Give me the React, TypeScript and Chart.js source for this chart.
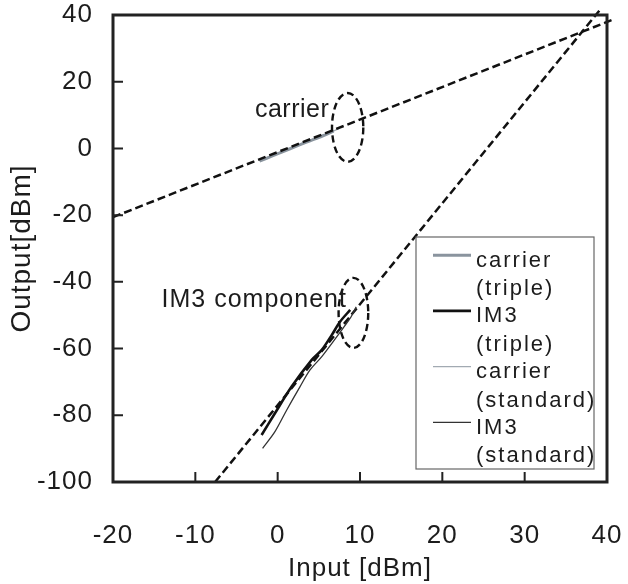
import React, { useEffect, useRef } from "react";
import { Chart, registerables } from "chart.js";

Chart.register(...registerables);

// ---- data ----
const xTickValues = [-20, -10, 0, 10, 20, 30, 40];
const yTickValues = [40, 20, 0, -20, -40, -60, -80, -100];

const carrierTripleIn = [-2.2, -0.5, 1.5, 3.5, 5.5, 6.8];
const carrierTripleOut = [-3.8, -2.1, -0.1, 1.9, 3.8, 5.2];

const im3TripleIn = [-1.95, -0.33, 1.7, 4.14, 5.36, 6.58, 7.59, 8.81];
const im3TripleOut = [-85.9, -79.4, -71.4, -63.4, -60.4, -55.9, -51.9, -48.4];

const carrierStdIn = [-2.0, 0, 2, 4, 6, 7.5];
const carrierStdOut = [-3.4, -1.4, 0.5, 2.5, 4.4, 6.0];

const im3StdIn = [-1.83, -0.33, 1.1, 2.72, 3.93, 5.36, 7.19, 8.81, 9.54];
const im3StdOut = [-89.9, -84.9, -78.4, -71.4, -66.4, -62.4, -56.4, -50.9, -47.5];

const carrierFitIn = [-20, 40.6];
const carrierFitOut = [-20.6, 38.5];
const im3FitIn = [-7.6, 39.3];
const im3FitOut = [-100, 42];

const legendLines = [
  ["carrier", "(triple)"],
  ["IM3", "(triple)"],
  ["carrier", "(standard)"],
  ["IM3", "(standard)"],
];

const carrierLabel = "carrier";
const im3Label = "IM3 component";
const xTitle = "Input [dBm]";
const yTitle = "Output[dBm]";

const FONT = "'Liberation Sans', Arial, sans-serif";
const TEXT = "#1c1c1c";

const pts = (xs: number[], ys: number[]) => xs.map((x, i) => ({ x, y: ys[i] }));

const decorPlugin = {
  id: "decor",
  beforeDraw(chart: any) {
    chart.ctx.letterSpacing = "1px";
  },
  afterDraw(chart: any) {
    const { ctx, chartArea: a, scales } = chart;
    const xs = scales.x;
    const ys = scales.y;
    ctx.save();
    ctx.letterSpacing = "1px";

    // frame
    ctx.strokeStyle = "#222";
    ctx.lineWidth = 3;
    ctx.setLineDash([]);
    ctx.strokeRect(a.left, a.top, a.right - a.left, a.bottom - a.top);

    // inner ticks
    ctx.lineWidth = 2;
    ctx.beginPath();
    xTickValues.slice(1, -1).forEach((v) => {
      const px = xs.getPixelForValue(v);
      ctx.moveTo(px, a.bottom);
      ctx.lineTo(px, a.bottom - 10);
    });
    yTickValues.slice(1, -1).forEach((v) => {
      const py = ys.getPixelForValue(v);
      ctx.moveTo(a.left, py);
      ctx.lineTo(a.left + 10, py);
    });
    ctx.stroke();

    // ellipses
    const ell = (cx: number, cy: number, rx: number, ry: number) => {
      const px = xs.getPixelForValue(cx);
      const py = ys.getPixelForValue(cy);
      const prx = Math.abs(xs.getPixelForValue(cx + rx) - px);
      const pry = Math.abs(ys.getPixelForValue(cy + ry) - py);
      ctx.beginPath();
      ctx.ellipse(px, py, prx, pry, 0, 0, Math.PI * 2);
      ctx.stroke();
    };
    ctx.strokeStyle = "#111";
    ctx.lineWidth = 2.4;
    ctx.setLineDash([7, 4]);
    ell(8.5, 6.3, 1.9, 10.3);
    ell(9.2, -49.3, 1.8, 10.5);
    ctx.setLineDash([]);

    // annotations
    ctx.fillStyle = TEXT;
    ctx.font = `25px ${FONT}`;
    ctx.textAlign = "left";
    ctx.textBaseline = "alphabetic";
    ctx.letterSpacing = "0.5px";
    ctx.fillText(carrierLabel, xs.getPixelForValue(-2.76), ys.getPixelForValue(9.4));
    ctx.letterSpacing = "1px";
    ctx.fillText(im3Label, xs.getPixelForValue(-14.1), ys.getPixelForValue(-47.5));

    // legend
    const w = 178;
    const h = 232;
    const left = a.right - 13 - w;
    const top = a.bottom - 13 - h;
    ctx.fillStyle = "#fff";
    ctx.fillRect(left, top, w, h);
    ctx.strokeStyle = "#666";
    ctx.lineWidth = 1.2;
    ctx.strokeRect(left, top, w, h);
    ctx.font = `22px ${FONT}`;
    ctx.letterSpacing = "2px";
    const ds = chart.data.datasets;
    legendLines.forEach((lines, i) => {
      const d = ds[i];
      const base = top + 29.7 + i * 55.7;
      ctx.strokeStyle = d.borderColor;
      ctx.lineWidth = d.borderWidth;
      ctx.beginPath();
      ctx.moveTo(left + 17, base - 11.5);
      ctx.lineTo(left + 55, base - 11.5);
      ctx.stroke();
      ctx.fillStyle = TEXT;
      ctx.fillText(lines[0], left + 60, base);
      ctx.fillText(lines[1], left + 60, base + 28.5);
    });
    ctx.restore();
  },
};

const zeroPad = (s: any) => {
  s.paddingTop = 0;
  s.paddingBottom = 0;
  s.paddingLeft = 0;
  s.paddingRight = 0;
};

export default function App() {
  const ref = useRef<HTMLCanvasElement>(null);
  useEffect(() => {
    document.body.style.margin = "0";
    const canvas = ref.current!;
    const lineDs = (label: string, data: any, color: string, width: number, order: number) => ({
      label,
      data,
      borderColor: color,
      backgroundColor: color,
      borderWidth: width,
      pointRadius: 0,
      fill: false,
      tension: 0.3,
      order,
    });
    const chart = new Chart(canvas, {
      type: "line",
      data: {
        datasets: [
          lineDs("carrier (triple)", pts(carrierTripleIn, carrierTripleOut), "#8a949e", 3, 3),
          lineDs("IM3 (triple)", pts(im3TripleIn, im3TripleOut), "#111111", 2.6, 0),
          lineDs("carrier (standard)", pts(carrierStdIn, carrierStdOut), "#a2aab2", 1.2, 3),
          lineDs("IM3 (standard)", pts(im3StdIn, im3StdOut), "#333333", 1.3, 0),
          {
            ...lineDs("carrier fit", pts(carrierFitIn, carrierFitOut), "#111111", 2.5, 1),
            borderDash: [8, 4],
            tension: 0,
            clip: false,
          },
          {
            ...lineDs("IM3 fit", pts(im3FitIn, im3FitOut), "#111111", 2.5, 1),
            borderDash: [8, 4],
            tension: 0,
            clip: false,
          },
        ],
      },
      options: {
        responsive: false,
        animation: false,
        events: [],
        layout: { padding: { top: 15, right: 21, left: 0, bottom: 0 } },
        plugins: { legend: { display: false }, tooltip: { enabled: false } },
        scales: {
          x: {
            type: "linear",
            min: -20,
            max: 40,
            afterFit: (s: any) => {
              s.height = 102;
              zeroPad(s);
            },
            afterBuildTicks: (s: any) => {
              s.ticks = xTickValues.map((v) => ({ value: v }));
            },
            grid: { display: false, drawTicks: false },
            border: { display: false },
            ticks: {
              padding: 38,
              color: TEXT,
              maxRotation: 0,
              autoSkip: false,
              font: { family: FONT, size: 26 },
            },
            title: {
              display: true,
              text: xTitle,
              color: TEXT,
              font: { family: FONT, size: 26 },
              padding: { top: 0, bottom: 0 },
            },
          },
          y: {
            type: "linear",
            min: -100,
            max: 40,
            afterFit: (s: any) => {
              s.width = 113;
              zeroPad(s);
            },
            afterBuildTicks: (s: any) => {
              s.ticks = yTickValues.map((v) => ({ value: v }));
            },
            grid: { display: false, drawTicks: false },
            border: { display: false },
            ticks: {
              padding: 20,
              color: TEXT,
              autoSkip: false,
              font: { family: FONT, size: 26 },
            },
            title: {
              display: true,
              text: yTitle,
              color: TEXT,
              font: { family: FONT, size: 28 },
              padding: { top: 5, bottom: 0 },
            },
          },
        },
      },
      plugins: [decorPlugin],
    });
    return () => chart.destroy();
  }, []);
  return (
    <div style={{ width: 628, height: 584 }}>
      <canvas ref={ref} width={628} height={584} style={{ display: "block" }} />
    </div>
  );
}
